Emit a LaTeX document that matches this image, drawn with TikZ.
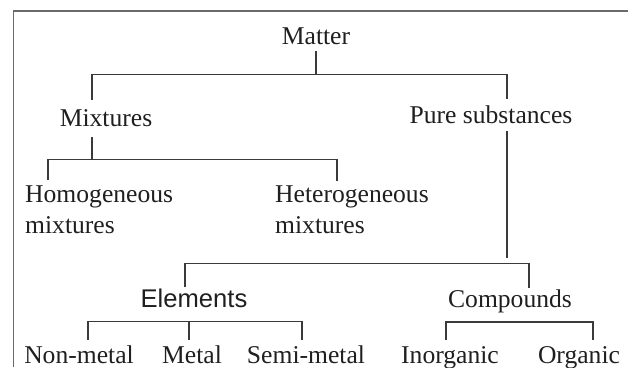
\documentclass[tikz,border=0pt]{standalone}
\usepackage{fontspec}
\setmainfont{Liberation Serif}
\setsansfont{Liberation Sans}
\definecolor{linegray}{HTML}{3A3A3A}
\definecolor{framegray}{HTML}{6A6A6A}
\begin{document}
\begin{tikzpicture}[x=1pt,y=1pt,
	lbl/.style={inner sep=0pt,anchor=base,text=black!88,font=\fontsize{25.6}{31}\selectfont},
	br/.style={draw=linegray,line width=1.3pt}]
	\useasboundingbox (0,0) rectangle (628,367);
	\draw[framegray,line width=1.8pt] (13.5,0)--(13.5,356)--(628,356);
	% labels
	\node[lbl] (matter) at (316,322) {Matter};
	\node[lbl] (mixtures) at (106,240) {Mixtures};
	\node[lbl] (pure) at (491,243) {Pure substances};
	\node[lbl,anchor=north west,align=left] (homog) at (25,181.5) {Homogeneous\\mixtures};
	\node[lbl,anchor=north west,align=left] (hetero) at (275,181.5) {Heterogeneous\\mixtures};
	\node[lbl,font=\fontsize{25.6}{31}\selectfont\sffamily] (elements) at (194,60) {Elements};
	\node[lbl] (compounds) at (510,60) {Compounds};
	\node[lbl] (nonmetal) at (79,4) {Non-metal};
	\node[lbl] (metal) at (192,4) {Metal};
	\node[lbl] (semimetal) at (306,4) {Semi-metal};
	\node[lbl] (inorg) at (450,4) {Inorganic};
	\node[lbl] (org) at (579,4) {Organic};
	% branches
	\draw[br] ([yshift=-6]matter.south) -- ++(0,-24);
	\draw[br] ([xshift=-14,yshift=10]mixtures.north) -- ++(0,25) -| ([xshift=16,yshift=7]pure.north);
	\draw[br] ([xshift=-14,yshift=-10]mixtures.south) -- ++(0,-22);
	\draw[br] ([xshift=23,yshift=5]homog.north west) -- ++(0,21) -| ([xshift=62,yshift=4]hetero.north west);
	\draw[br] ([xshift=16,yshift=-7]pure.south) -- ++(0,-127);
	\draw[br] ([xshift=-9,yshift=1]elements.north) -- ++(0,24) -| ([xshift=19,yshift=1.5]compounds.north);
	\draw[br] ([xshift=9,yshift=5.5]nonmetal.north) -- ++(0,18) -| ([xshift=-4,yshift=5.5]semimetal.north);
	\draw[br] ([xshift=-3,yshift=5.5]metal.north) -- ++(0,18);
	\draw[br] ([xshift=-4,yshift=6]inorg.north) -- ++(0,18) -| ([xshift=14,yshift=5.5]org.north);
\end{tikzpicture}
\end{document}
